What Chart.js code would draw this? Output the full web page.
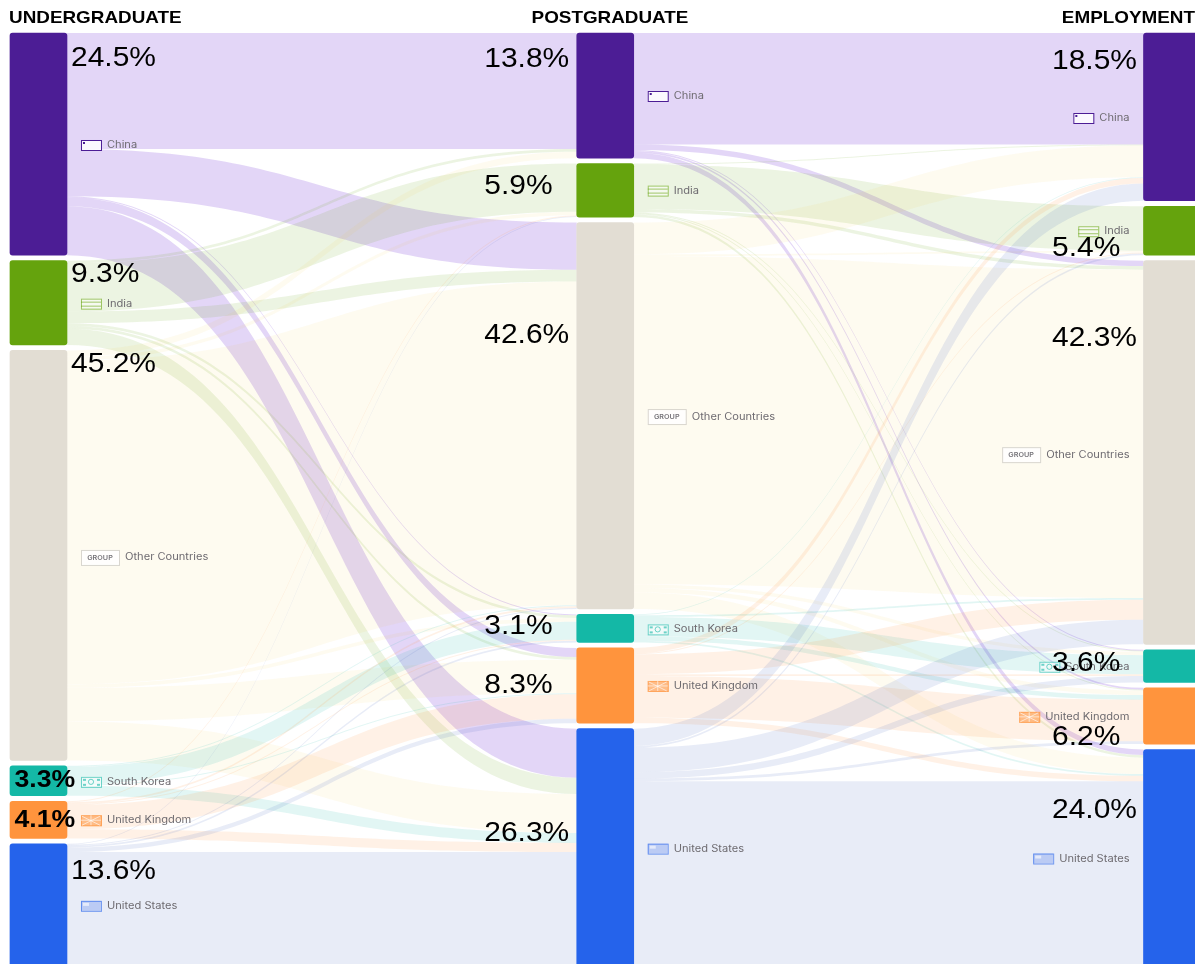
<!DOCTYPE html>
<html>
<head>
<meta charset="utf-8">
<title>Talent flows</title>
<script src="https://cdn.jsdelivr.net/npm/chart.js@4/dist/chart.umd.min.js"></script>
<style>
  html, body { margin: 0; padding: 0; background: #fff; overflow: hidden; }
  canvas { display: block; }
</style>
</head>
<body>
<canvas id="main-chart" width="1195" height="964"></canvas>
<script>
const stages = ['UNDERGRADUATE', 'POSTGRADUATE', 'EMPLOYMENT'];
const countries = ['China', 'India', 'Other Countries', 'South Korea', 'United Kingdom', 'United States'];

// share of talent per stage, same order as countries
const undergraduate = [24.5, 9.3, 45.2, 3.3, 4.1, 13.6];
const postgraduate  = [13.8, 5.9, 42.6, 3.1, 8.3, 26.3];
const employment    = [18.5, 5.4, 42.3, 3.6, 6.2, 24.0];

// flows, row = from, column = to
const underToPost = [
  [12.8, 0.0,  5.2, 0.1, 1.0,  5.4],
  [ 0.3, 5.3,  1.3, 0.3, 0.3,  1.8],
  [ 0.7, 0.4, 35.7, 0.4, 3.7,  4.3],
  [ 0.0, 0.0,  0.1, 2.0, 0.1,  1.1],
  [ 0.0, 0.1,  0.2, 0.1, 2.7,  1.0],
  [ 0.0, 0.1,  0.1, 0.2, 0.5, 12.7],
];
const postToEmploy = [
  [12.3, 0.0,  0.6, 0.1, 0.2,  0.6],
  [ 0.1, 4.9,  0.4, 0.1, 0.1,  0.3],
  [ 3.5, 0.2, 36.2, 0.4, 0.5,  1.8],
  [ 0.1, 0.0,  0.2, 2.1, 0.5,  0.2],
  [ 0.6, 0.1,  2.2, 0.2, 4.6,  0.6],
  [ 1.9, 0.2,  2.7, 0.7, 0.3, 20.5],
];

const nodeColors = ['#4C1D95', '#65A30D', '#E2DDD3', '#14B8A6', '#FF943D', '#2563EB'];
const flowColors = [
  'rgba(115,50,215,0.2)', 'rgba(101,163,13,0.12)', 'rgba(234,179,8,0.06)',
  'rgba(20,184,166,0.12)', 'rgba(255,148,65,0.13)', 'rgba(30,64,175,0.1)'
];
const GAP = 0.6;      // space between nodes, in share units
const NODE_W = 57;

// label placement, px below the top of the node
const pctDy   = [[26, 14, 14, 15, 19, 28], [27, 23, 113, 12, 38, 105], [29, 42, 78, 14, 50, 61]];
const labelDy = [[112, 43, 207, 16, 19, 62], [63, 27, 194, 15, 38, 120], [85, 25, 194, 17, 29, 109]];
const STRETCH = 1.11;

const shares = [undergraduate, postgraduate, employment];

function nodeRanges(vals) {
  let y = 0;
  return vals.map(v => { const r = [y, y + v]; y += v + GAP; return r; });
}
const ranges = shares.map(nodeRanges);

function text(ctx, str, x, y, font, color, align) {
  ctx.save();
  ctx.font = font;
  ctx.fillStyle = color;
  ctx.textBaseline = 'middle';
  ctx.textAlign = 'left';
  const w = ctx.measureText(str).width * STRETCH;
  const left = align === 'right' ? x - w : align === 'center' ? x - w / 2 : x;
  ctx.translate(left, y);
  ctx.scale(STRETCH, 1);
  ctx.fillText(str, 0, 0);
  ctx.restore();
  return w;
}

function drawFlows(ctx, chart, matrix, stage) {
  const xs = chart.scales.x, ys = chart.scales.y;
  const x0 = xs.getPixelForValue(stage) + NODE_W / 2;
  const x1 = xs.getPixelForValue(stage + 1) - NODE_W / 2;
  const mx = (x0 + x1) / 2;
  const srcOff = ranges[stage].map(r => r[0]);
  const dstOff = ranges[stage + 1].map(r => r[0]);
  matrix.forEach((row, i) => {
    row.forEach((v, j) => {
      if (!v) return;
      // target side is stacked in source order
      let dst = dstOff[j];
      for (let k = 0; k < i; k++) dst += matrix[k][j];
      const a0 = ys.getPixelForValue(srcOff[i]), a1 = ys.getPixelForValue(srcOff[i] + v);
      const b0 = ys.getPixelForValue(dst), b1 = ys.getPixelForValue(dst + v);
      ctx.beginPath();
      ctx.moveTo(x0, a0);
      ctx.bezierCurveTo(mx, a0, mx, b0, x1, b0);
      ctx.lineTo(x1, b1);
      ctx.bezierCurveTo(mx, b1, mx, a1, x0, a1);
      ctx.closePath();
      ctx.fillStyle = flowColors[i];
      ctx.fill();
      srcOff[i] += v;
    });
  });
}

function drawFlag(ctx, idx, x, y) {
  const w = 20, h = 10, c = nodeColors[idx], top = y - h / 2;
  ctx.save();
  ctx.globalAlpha = idx === 0 ? 1 : 0.6;
  ctx.fillStyle = idx === 5 ? '#9DB5F2' : 'rgba(255,255,255,0.85)';
  ctx.fillRect(x, top, w, h);
  ctx.strokeStyle = c;
  ctx.lineWidth = 1;
  ctx.strokeRect(x + 0.5, top + 0.5, w, h);
  ctx.fillStyle = c;
  ctx.strokeStyle = c;
  if (idx === 0) {
    ctx.fillRect(x + 2, top + 2, 2, 2);
  } else if (idx === 1) {
    ctx.beginPath();
    ctx.moveTo(x, top + 3.5); ctx.lineTo(x + w, top + 3.5);
    ctx.moveTo(x, top + 7.5); ctx.lineTo(x + w, top + 7.5);
    ctx.stroke();
  } else if (idx === 3) {
    ctx.beginPath();
    ctx.arc(x + w / 2, y, 2.6, 0, Math.PI * 2);
    ctx.stroke();
    ctx.fillRect(x + 2, top + 2, 3, 2); ctx.fillRect(x + w - 4, top + 2, 3, 2);
    ctx.fillRect(x + 2, top + h - 3, 3, 2); ctx.fillRect(x + w - 4, top + h - 3, 3, 2);
  } else if (idx === 4) {
    ctx.fillRect(x, top, w + 1, h + 1);
    ctx.strokeStyle = '#fff';
    ctx.beginPath();
    ctx.moveTo(x + w / 2, top); ctx.lineTo(x + w / 2, top + h);
    ctx.moveTo(x, y); ctx.lineTo(x + w, y);
    ctx.moveTo(x + 1, top + 1); ctx.lineTo(x + w - 1, top + h);
    ctx.moveTo(x + w - 1, top + 1); ctx.lineTo(x + 1, top + h);
    ctx.stroke();
  } else if (idx === 5) {
    ctx.fillStyle = '#fff';
    ctx.fillRect(x + 2, top + 2, 6, 3);
  }
  ctx.restore();
}

function drawNodeLabel(ctx, chart, stage, i) {
  const xs = chart.scales.x, ys = chart.scales.y;
  const y = ys.getPixelForValue(ranges[stage][i][0]) + labelDy[stage][i];
  const cx = xs.getPixelForValue(stage);
  const font = '10px Inter, "Noto Sans", sans-serif';
  const color = '#6E6B70';
  const isGroup = countries[i] === 'Other Countries';
  const boxW = isGroup ? 38 : 20;
  let boxX, textX;
  ctx.save();
  ctx.font = font;
  const tw = ctx.measureText(countries[i]).width * STRETCH;
  ctx.restore();
  if (stage === 2) {
    textX = cx - NODE_W / 2 - 14 - tw;
    boxX = textX - 6 - boxW;
  } else {
    boxX = cx + NODE_W / 2 + 14;
    textX = boxX + boxW + 6;
  }
  if (isGroup) {
    ctx.save();
    ctx.fillStyle = 'rgba(255,255,255,0.85)';
    ctx.strokeStyle = '#D9D6CF';
    ctx.fillRect(boxX, y - 7.5, boxW, 15);
    ctx.strokeRect(boxX + 0.5, y - 7, boxW, 15);
    ctx.restore();
    text(ctx, 'GROUP', boxX + boxW / 2, y + 0.5, '600 6.5px Inter, sans-serif', '#77757A', 'center');
  } else {
    drawFlag(ctx, i, boxX, y);
  }
  text(ctx, countries[i], textX, y, font, color, 'left');
}

const sankeyPlugin = {
  id: 'sankey',
  beforeDatasetsDraw(chart) {
    const ctx = chart.ctx;
    ctx.save();
    drawFlows(ctx, chart, underToPost, 0);
    drawFlows(ctx, chart, postToEmploy, 1);
    ctx.restore();
  },
  afterDatasetsDraw(chart) {
    const ctx = chart.ctx, xs = chart.scales.x, ys = chart.scales.y;
    stages.forEach((s, k) => {
      const font = 'bold 17px "Liberation Sans", Arial, sans-serif';
      if (k === 0) text(ctx, s, 9, 18, font, '#000', 'left');
      else if (k === 1) text(ctx, s, 610, 18, font, '#000', 'center');
      else text(ctx, s, 1195, 18, font, '#000', 'right');
    });
    shares.forEach((vals, stage) => {
      vals.forEach((v, i) => drawNodeLabel(ctx, chart, stage, i));
    });
    shares.forEach((vals, stage) => {
      const cx = xs.getPixelForValue(stage);
      vals.forEach((v, i) => {
        const y = ys.getPixelForValue(ranges[stage][i][0]) + pctDy[stage][i];
        const small = stage === 0 && (i === 3 || i === 4);
        const font = (small ? 'bold 24px' : '27px') + ' "Liberation Sans", Arial, sans-serif';
        let x = cx + NODE_W / 2 + 4;
        if (stage === 1) x = cx - 121;
        if (stage === 2) x = cx - 120;
        if (small) x = cx - 24;
        text(ctx, v.toFixed(1) + '%', x, y, font, '#000', 'left');
      });
    });
  }
};

new Chart(document.getElementById('main-chart'), {
  type: 'bar',
  data: {
    datasets: countries.map((name, i) => ({
      label: name,
      data: stages.map((s, k) => ({ x: k, y: ranges[k][i] })),
      backgroundColor: nodeColors[i],
      borderRadius: 3,
      borderSkipped: false,
      barThickness: NODE_W,
      grouped: false,
    }))
  },
  options: {
    responsive: false,
    animation: false,
    layout: { padding: 0 },
    plugins: { legend: { display: false }, tooltip: { enabled: false } },
    scales: {
      x: { type: 'linear', display: false, offset: false, min: -0.0679, max: 2.0406, grid: { display: false } },
      y: { type: 'linear', display: false, reverse: true, min: -3.638, max: 102.646, grid: { display: false } }
    }
  },
  plugins: [sankeyPlugin]
});
</script>
</body>
</html>
